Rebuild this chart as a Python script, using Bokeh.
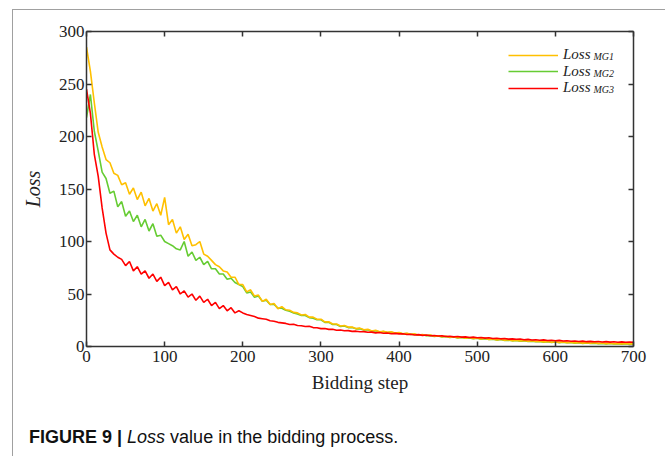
from bokeh.plotting import figure
from bokeh.models import (Range1d, FixedTicker, LinearAxis, Legend, LegendItem,
                          Label, Div)
from bokeh.layouts import column
from bokeh.embed import file_html
from bokeh.resources import INLINE

# ---------------- data (every 5 bidding steps) -------------
steps = list(range(0, 701, 5))

loss_mg1 = [
    285, 262, 232, 204, 190, 178, 175, 165, 163, 154,
    156, 145, 151, 140, 147, 134, 141, 129, 136, 125,
    142, 116, 121, 108, 114, 102, 107, 96, 97, 100,
    88, 86, 82, 78, 76, 72, 71, 66, 66, 59,
    59, 52, 54, 48, 49, 43, 45, 40, 41, 36,
    38, 35, 34.5, 32.5, 32, 30, 30.5, 28, 28, 26,
    26, 23.5, 23.5, 21.5, 21.5, 19.5, 20, 18.5, 18.5, 17,
    17.5, 16, 16.5, 14.8, 15.5, 14, 14.6, 13.6, 14, 12.8,
    13.4, 12.2, 12.6, 11.6, 12, 10.9, 11.4, 10.4, 10.9, 9.8,
    10.3, 9.3, 9.8, 8.8, 9.3, 8.3, 8.8, 8, 8.5, 7.6,
    8.2, 7.2, 7.8, 6.8, 7.3, 6.3, 6.9, 6, 6.4, 5.6,
    6.1, 5.3, 5.7, 5, 5.4, 4.7, 5.1, 4.4, 4.8, 4.1,
    4.6, 3.9, 4.3, 3.7, 4.1, 3.4, 3.9, 3.2, 3.7, 3.1,
    3.5, 2.9, 3.3, 2.7, 3.2, 2.6, 3, 2.5, 2.9, 2.4,
    2.7,
]

loss_mg2 = [
    218, 240, 205, 186, 166, 160, 146, 148, 133, 138,
    124, 129, 119, 125, 114, 121, 110, 117, 105, 106,
    100, 98, 96, 93, 92, 100, 86, 90, 82, 85,
    78, 81, 74, 74, 69, 69, 64, 65, 61, 59,
    57, 51, 52, 47, 48, 43, 44, 40, 40, 36.5,
    36.5, 34.5, 33.5, 32, 31, 29.5, 29.5, 27.5, 27, 25.5,
    25.5, 23, 23, 21, 21, 19, 19.5, 18, 18, 16.8,
    17, 15.7, 16, 14.6, 15, 13.8, 14.2, 13.3, 13.6, 12.6,
    13, 12, 12.3, 11.4, 11.7, 10.7, 11.1, 10.2, 10.6, 9.6,
    10, 9.1, 9.5, 8.6, 9, 8.1, 8.5, 7.8, 8.2, 7.4,
    7.9, 7, 7.5, 6.6, 7, 6.1, 6.6, 5.8, 6.1, 5.4,
    5.8, 5.1, 5.4, 4.8, 5.1, 4.5, 4.8, 4.2, 4.5, 3.9,
    4.3, 3.7, 4, 3.5, 3.8, 3.2, 3.6, 3, 3.4, 2.9,
    3.2, 2.7, 3, 2.5, 2.9, 2.4, 2.7, 2.3, 2.6, 2.2,
    2.4,
]

loss_mg3 = [
    245, 222, 183, 162, 132, 108, 92, 88, 85, 83,
    77, 81, 72, 76, 69, 72, 65, 69, 62, 66,
    58, 61, 54, 57, 50, 53, 47, 50, 44, 48,
    42, 45, 39, 42, 36, 39, 34, 37, 32, 34,
    32, 30.5, 29.5, 28.5, 27, 26.5, 26, 24.5, 24, 23,
    22.5, 22, 21, 21.2, 20, 19.8, 19, 19.2, 18, 17.8,
    17, 17.2, 16.3, 16.5, 15.5, 15.7, 15, 15.1, 14.4, 14.6,
    14, 14.2, 13.5, 13.7, 13, 13.3, 12.6, 12.9, 12.2, 12.5,
    12, 12.1, 11.4, 11.7, 11, 11.3, 10.6, 10.9, 10.2, 10.5,
    10, 10.1, 9.5, 9.8, 9.2, 9.5, 8.9, 9.2, 8.6, 8.9,
    8.4, 8.6, 8, 8.3, 7.6, 7.9, 7.3, 7.6, 7, 7.3,
    6.9, 7.1, 6.5, 6.8, 6.2, 6.5, 5.9, 6.3, 5.7, 6,
    5.5, 5.8, 5.2, 5.5, 5, 5.3, 4.8, 5.1, 4.6, 4.9,
    4.5, 4.8, 4.3, 4.6, 4.2, 4.5, 4.1, 4.4, 4, 4.3,
    4,
]

x_ticks = [0, 100, 200, 300, 400, 500, 600, 700]
y_ticks = [0, 50, 100, 150, 200, 250, 300]
series_names = ["Loss", "Loss", "Loss"]
series_subs = ["MG1", "MG2", "MG3"]
series_colors = ["#FFC000", "#66CC33", "#FF0000"]

caption_bold = "FIGURE 9 |"
caption_italic = "Loss"
caption_rest = "value in the bidding process."

# ---------------- figure ----------------
SERIF = "Liberation Serif"
SANS = "Liberation Sans"
W, H = 645, 390

p = figure(width=W, height=H, output_backend="svg", toolbar_location=None,
           x_range=Range1d(0, 700), y_range=Range1d(0, 300),
           min_border_left=73, min_border_right=25, min_border_top=21,
           min_border_bottom=54, background_fill_color="white",
           border_fill_color="white", outline_line_color=None)
p.xgrid.visible = False
p.ygrid.visible = False


def style_axis(ax, ticks, show_labels):
    ax.ticker = FixedTicker(ticks=ticks)
    ax.axis_line_color = "#333333"
    ax.axis_line_width = 1.5
    ax.major_tick_line_color = "#333333"
    ax.major_tick_line_width = 1.5
    ax.major_tick_in = 5
    ax.major_tick_out = 0
    ax.minor_tick_line_color = None
    ax.major_label_text_font = SERIF
    ax.major_label_text_font_size = "17px"
    ax.major_label_text_color = "#222222"
    if not show_labels:
        ax.major_label_overrides = {t: "" for t in ticks}
        ax.major_label_text_font_size = "0px"


xa = p.xaxis[0]
ya = p.yaxis[0]
style_axis(xa, x_ticks, True)
style_axis(ya, y_ticks, True)
xa.major_label_standoff = 4
ya.major_label_standoff = 2
xa.axis_label = "Bidding step"
xa.axis_label_text_font = SERIF
xa.axis_label_text_font_style = "normal"
xa.axis_label_text_font_size = "19px"
xa.axis_label_text_color = "#222222"
xa.axis_label_standoff = 7
ya.axis_label = "Loss"
ya.axis_label_text_font = SERIF
ya.axis_label_text_font_style = "italic"
ya.axis_label_text_font_size = "20px"
ya.axis_label_text_color = "#222222"
ya.axis_label_standoff = 12

top_ax = LinearAxis()
style_axis(top_ax, x_ticks, False)
right_ax = LinearAxis()
style_axis(right_ax, y_ticks, False)
p.add_layout(top_ax, "above")
p.add_layout(right_ax, "right")

# lines (draw order: green, orange, red)
r1 = p.line(steps, loss_mg1, line_color=series_colors[0], line_width=1.6)
r2 = p.line(steps, loss_mg2, line_color=series_colors[1], line_width=1.6)
r3 = p.line(steps, loss_mg3, line_color=series_colors[2], line_width=1.6)
p.renderers = [r2, r1, r3] + [r for r in p.renderers if r not in (r1, r2, r3)]

# one single-row legend per series so the rows sit close together
legend_bottoms = [283, 266.5, 250]
for i, r in enumerate([r1, r2, r3]):
    lg = Legend(items=[LegendItem(label=series_names[i], renderers=[r])],
                location=(422, legend_bottoms[i]), orientation="vertical",
                border_line_color=None, background_fill_alpha=0,
                padding=0, margin=0, spacing=0,
                glyph_width=50, glyph_height=14, label_height=14,
                label_standoff=5, label_text_font=SERIF,
                label_text_font_style="italic", label_text_font_size="15px",
                label_text_color="#222222")
    p.add_layout(lg, "center")

# subscripts of the legend labels
sub_baselines = [46, 62.5, 79]
for i, sub in enumerate(series_subs):
    p.add_layout(Label(x=580, y=sub_baselines[i], x_units="canvas", y_units="canvas",
                       text=sub, text_font=SERIF, text_font_style="italic",
                       text_font_size="10px", text_color="#222222",
                       text_baseline="alphabetic"))

# caption below the chart
caption = Div(
    text=(f'<div style="padding:22px 0 0 11px; font-family:\'{SANS}\'; '
          f'font-size:18px; color:#111111; white-space:nowrap; line-height:20px;">'
          f'<b>{caption_bold}</b> <i>{caption_italic}</i> {caption_rest}</div>'),
    width=W, height=46)

page = column(p, caption, margin=(9, 0, 0, 12),
              styles={"border-left": "1px solid #a0a0a0",
                      "border-top": "1px solid #a0a0a0",
                      "border-right": "1px solid #a0a0a0"})

open("out.html", "w").write(file_html(page, INLINE))
